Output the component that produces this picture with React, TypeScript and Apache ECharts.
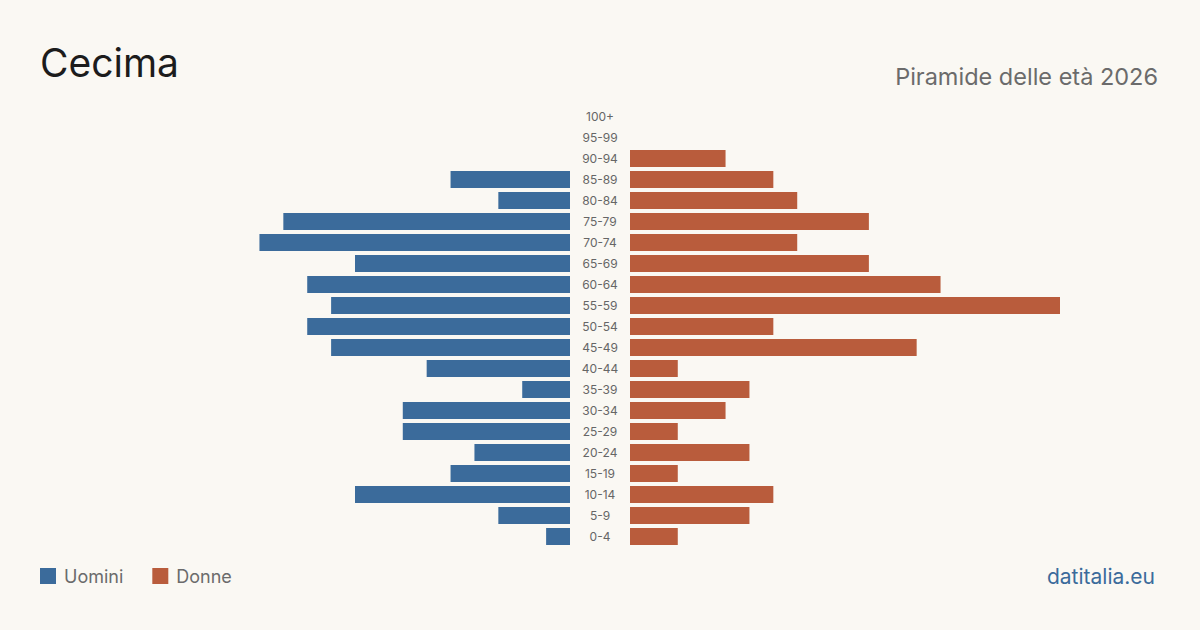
import React, { useEffect, useRef } from "react";
import * as echarts from "echarts";

const ageGroups = ["0-4","5-9","10-14","15-19","20-24","25-29","30-34","35-39","40-44","45-49","50-54","55-59","60-64","65-69","70-74","75-79","80-84","85-89","90-94","95-99","100+"];
const males = [1,3,9,5,4,7,7,2,6,10,11,10,11,9,13,12,3,5,0,0,0];
const females = [2,5,6,2,5,2,4,5,2,12,6,18,13,10,7,10,7,6,4,0,0];
const axisMax = 18;

const BLUE = "#3b6b9b";
const ORANGE = "#b95c3c";
const BG = "#faf8f3";
const FONT = "Inter, 'Noto Sans', sans-serif";

export default function App() {
  const ref = useRef<HTMLDivElement>(null);
  useEffect(() => {
    document.body.style.margin = "0";
    document.body.style.background = BG;
    const chart = echarts.init(ref.current!, null, { renderer: "svg" });
    chart.setOption({
      animation: false,
      backgroundColor: BG,
      textStyle: { fontFamily: FONT },
      title: [
        { text: "Cecima", left: 35, top: 38, textStyle: { fontSize: 39, fontWeight: "normal", color: "#1c1c1c", fontFamily: FONT } },
        { text: "Piramide delle età 2026", right: 37, top: 59, textStyle: { fontSize: 23.5, fontWeight: "normal", color: "#6b6b6b", fontFamily: FONT } },
        { text: "datitalia.eu", right: 40, top: 561, textStyle: { fontSize: 21, fontWeight: "normal", color: BLUE, fontFamily: FONT } },
      ],
      legend: {
        left: 35, top: 562, itemWidth: 16, itemHeight: 16, itemGap: 29, icon: "rect",
        textStyle: { fontSize: 18, color: "#6b6b6b", fontFamily: FONT, padding: [0, 0, 0, 3] },
        data: ["Uomini", "Donne"],
      },
      grid: [
        { left: 140, width: 430, top: 106, height: 441 },
        { left: 630, width: 430, top: 106, height: 441 },
      ],
      xAxis: [
        { type: "value", gridIndex: 0, min: 0, max: axisMax, inverse: true, show: false },
        { type: "value", gridIndex: 1, min: 0, max: axisMax, show: false },
      ],
      yAxis: [
        { type: "category", gridIndex: 0, data: ageGroups, show: false },
        {
          type: "category", gridIndex: 1, data: ageGroups,
          axisLine: { show: false }, axisTick: { show: false }, splitLine: { show: false },
          axisLabel: { show: true, align: "center", margin: 30, fontSize: 12, color: "#666", fontFamily: FONT },
        },
      ],
      series: [
        { name: "Uomini", type: "bar", xAxisIndex: 0, yAxisIndex: 0, data: males, barWidth: 17, itemStyle: { color: BLUE } },
        { name: "Donne", type: "bar", xAxisIndex: 1, yAxisIndex: 1, data: females, barWidth: 17, itemStyle: { color: ORANGE } },
      ],
    });
    return () => chart.dispose();
  }, []);
  return <div ref={ref} style={{ width: 1200, height: 630 }} />;
}
